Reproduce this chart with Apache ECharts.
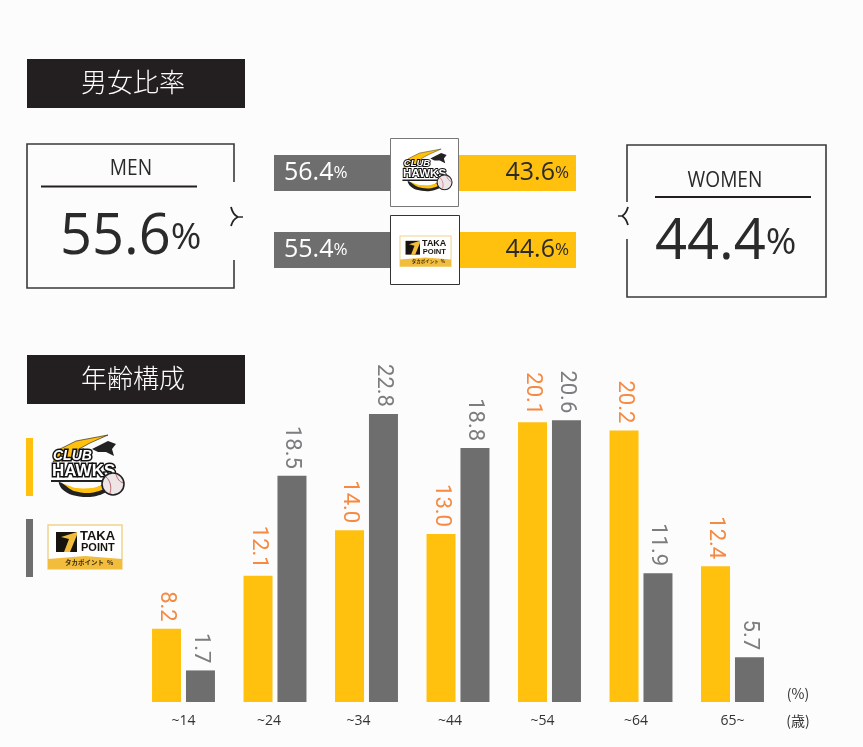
<!DOCTYPE html>
<html>
<head>
<meta charset="utf-8">
<style>
html, body { margin: 0; padding: 0; background: #fcfcfd; }
#main { width: 863px; height: 747px; }
</style>
<script src="https://cdn.jsdelivr.net/npm/echarts@6/dist/echarts.min.js"></script>
</head>
<body>
<div id="main"></div>
<script>
// 男女比率
var ratioRows = ['CLUB HAWKS', 'TAKA POINT'];
var menShare = [56.4, 55.4];
var womenShare = [43.6, 44.6];
var menTotal = '55.6';
var womenTotal = '44.4';

// 年齢構成
var ageGroups = ['~14', '~24', '~34', '~44', '~54', '~64', '65~'];
var hawksPrinted = ['8.2', '12.1', '14.0', '13.0', '20.1', '20.2', '12.4'];
var takaPrinted = ['1.7', '18.5', '22.8', '18.8', '20.6', '11.9', '5.7'];
// the bars in the picture are not proportional to their printed numbers,
// so the drawn heights are read off separately (in the 22.8 bar's scale)
var hawksBars = [5.8, 10.0, 13.6, 13.3, 22.15, 21.5, 10.75];
var takaBars = [2.5, 17.9, 22.8, 20.1, 22.3, 10.2, 3.55];

var YELLOW = '#ffc00e';
var GREY = '#6e6e6f';
var DARK = '#231f20';
var FONT = '"Open Sans", "Noto Sans CJK JP", sans-serif';
var CJK = '"Noto Sans CJK JP", sans-serif';
var LOGO = '"Liberation Sans", sans-serif';

// tick labels sit a little left of their bar groups in the picture
var tickNudge = [0, 6, 8, 8, 7, 5, 0];

var myChart = echarts.init(document.getElementById('main'));

function titleBar(y, text) {
    return [
        { type: 'rect', shape: { x: 27, y: y, width: 218, height: 49 }, style: { fill: DARK } },
        { type: 'text', x: 133, y: y + 23, style: { text: text, fill: '#fff', font: '300 26px ' + CJK, align: 'center', verticalAlign: 'middle' } }
    ];
}

function line(points, width) {
    return { type: 'polyline', shape: { points: points }, style: { stroke: width === 2 ? DARK : '#3a3a3a', lineWidth: width, fill: null } };
}

function hook(x1, y1, cx, cy, x2, y2) {
    return { type: 'bezierCurve', shape: { x1: x1, y1: y1, cpx1: cx, cpy1: cy, x2: x2, y2: y2 }, style: { stroke: '#222', lineWidth: 1.8, fill: null } };
}

function caseText(x, y, num) {
    return {
        type: 'text', x: x, y: y,
        style: {
            text: '{n|' + num + '}{p|%}',
            verticalAlign: 'middle',
            rich: {
                n: { font: '400 56px ' + FONT, fill: '#2a2a2a' },
                p: { font: '400 37px ' + FONT, fill: '#2a2a2a' }
            }
        }
    };
}

function withZ(group, z) {
    group.children.forEach(function (c) { c.z = z; });
    return group;
}

function hawksLogo(x, y, s) {
    return {
        type: 'group', x: x, y: y, scaleX: s, scaleY: s,
        children: [
            { type: 'polygon', shape: { points: [[7, 27], [14, 14], [30, 6], [62, 0], [44, 8], [33, 14], [28, 24]] }, style: { fill: YELLOW, stroke: '#111', lineWidth: 0.6 } },
            { type: 'polygon', shape: { points: [[46, 14], [62, 6], [70, 9], [66, 14], [68, 21], [60, 17], [52, 17]] }, style: { fill: '#222' } },
            { type: 'polygon', shape: { points: [[13, 47], [26, 53], [46, 54], [60, 49], [60, 57], [44, 62], [26, 60], [16, 54]], smooth: 0.3 }, style: { fill: '#222' } },
            { type: 'polygon', shape: { points: [[18, 49], [30, 53], [46, 53], [59, 50], [58, 54], [44, 58], [28, 56]], smooth: 0.3 }, style: { fill: YELLOW } },
            { type: 'text', x: 7, y: 14, style: { text: 'CLUB', fill: '#fff', stroke: '#111', lineWidth: 3, font: 'italic 700 14px ' + LOGO } },
            { type: 'text', x: 6, y: 28, style: { text: 'HAWKS', fill: '#fff', stroke: '#111', lineWidth: 3, font: '700 17px ' + LOGO } },
            { type: 'rect', shape: { x: 5, y: 45, width: 52, height: 2 }, style: { fill: '#222' } },
            { type: 'circle', shape: { cx: 67, cy: 49, r: 11 }, style: { fill: '#eee6e6', stroke: '#222', lineWidth: 1.6 } },
            { type: 'bezierCurve', shape: { x1: 60, y1: 42, cpx1: 64, cpy1: 45, cpx2: 66, cpy2: 52, x2: 64, y2: 58 }, style: { fill: null, stroke: '#b65a6a', lineWidth: 0.9 } },
            { type: 'bezierCurve', shape: { x1: 70, y1: 39, cpx1: 71, cpy1: 44, cpx2: 74, cpy2: 47, x2: 77, y2: 48 }, style: { fill: null, stroke: '#b65a6a', lineWidth: 0.9 } }
        ]
    };
}

function takaLogo(x, y, s) {
    return {
        type: 'group', x: x, y: y, scaleX: s, scaleY: s,
        children: [
            { type: 'rect', shape: { x: 0, y: 0, width: 74, height: 44 }, style: { fill: '#fff', stroke: '#f0d48a', lineWidth: 1.5 } },
            { type: 'polygon', shape: { points: [[0, 34], [37, 31], [74, 34], [74, 44], [0, 44]] }, style: { fill: '#f2bd3c' } },
            { type: 'rect', shape: { x: 8, y: 7, width: 21, height: 20 }, style: { fill: '#17130f' } },
            { type: 'polygon', shape: { points: [[13, 12], [29, 7], [29, 10], [22, 27], [16, 27], [21, 14]] }, style: { fill: '#f2bd3c' } },
            { type: 'text', x: 32, y: 5, style: { text: 'TAKA', fill: '#17130f', font: '700 13px ' + LOGO } },
            { type: 'text', x: 33, y: 17, style: { text: 'POINT', fill: '#17130f', font: '700 11px ' + LOGO } },
            { type: 'text', x: 17, y: 34, style: { text: 'タカポイント  %', fill: '#3a2c10', font: '700 6.5px ' + CJK } }
        ]
    };
}

var graphics = []
    .concat(titleBar(59, '男女比率'))
    .concat(titleBar(355, '年齢構成'))
    .concat([
        // MEN box
        line([[234, 182], [234, 144], [27, 144], [27, 288], [234, 288], [234, 260]], 1.6),
        hook(231, 207, 233, 215, 238, 217),
        hook(231, 226, 233, 219, 238, 217),
        line([[238, 217], [243, 217]], 1.6),
        { type: 'text', x: 131, y: 169, scaleX: 0.87, style: { text: 'MEN', fill: '#2a2a2a', font: '400 22px ' + FONT, align: 'center', verticalAlign: 'middle' } },
        line([[41, 186.5], [197, 186.5]], 2),
        caseText(60, 238, menTotal),
        // WOMEN box
        line([[627, 202], [627, 145], [826, 145], [826, 297], [627, 297], [627, 239]], 1.6),
        hook(628, 207, 626, 214, 622, 216),
        hook(628, 225, 626, 218, 622, 216),
        line([[622, 216], [618, 216]], 1.6),
        { type: 'text', x: 725, y: 181, scaleX: 0.87, style: { text: 'WOMEN', fill: '#2a2a2a', font: '400 22px ' + FONT, align: 'center', verticalAlign: 'middle' } },
        line([[655, 197], [811, 197]], 2),
        caseText(655, 243, womenTotal),
        // logo boxes, they sit on top of the stacked bars
        { type: 'rect', z: 20, shape: { x: 390.5, y: 138.5, width: 68, height: 68 }, style: { fill: '#fff', stroke: '#777', lineWidth: 1 } },
        { type: 'rect', z: 20, shape: { x: 390.5, y: 215.5, width: 69, height: 69 }, style: { fill: '#fff', stroke: '#333', lineWidth: 1 } },
        withZ(hawksLogo(399, 149, 0.68), 21),
        withZ(takaLogo(400, 236, 0.69), 21),
        // legend
        { type: 'rect', shape: { x: 26, y: 438, width: 7, height: 58 }, style: { fill: YELLOW } },
        { type: 'rect', shape: { x: 26, y: 519, width: 7, height: 58 }, style: { fill: GREY } },
        hawksLogo(46, 435, 1),
        takaLogo(48, 525, 1),
        // units
        { type: 'text', x: 798, y: 694, style: { text: '(%)', fill: '#333', font: '400 14px ' + CJK, align: 'center', verticalAlign: 'middle' } },
        { type: 'text', x: 798, y: 721, style: { text: '(歳)', fill: '#333', font: '400 14px ' + CJK, align: 'center', verticalAlign: 'middle' } }
    ]);

function shareLabel(position, color, gap) {
    return {
        show: true,
        position: position,
        distance: gap,
        formatter: function (p) { return '{n|' + p.value.toFixed(1) + '}{p|%}'; },
        rich: {
            n: { fontFamily: FONT, fontSize: 25, color: color },
            p: { fontFamily: FONT, fontSize: 17, color: color }
        }
    };
}

function ageLabel(printed, color) {
    return {
        show: true,
        position: 'top',
        distance: 7,
        rotate: -90,
        align: 'right',
        verticalAlign: 'middle',
        fontFamily: 'Roboto, sans-serif',
        fontSize: 22,
        color: color,
        formatter: function (p) { return printed[p.dataIndex]; }
    };
}

var tickRich = {};
tickNudge.forEach(function (n, i) {
    tickRich['t' + i] = { fontFamily: FONT, fontSize: 14, color: '#333', padding: [0, n * 2, 0, 0] };
});

option = {
    backgroundColor: '#fcfcfd',
    animation: false,
    grid: [
        { left: 274, top: 134.5, width: 302, height: 154 },
        { left: 137.75, top: 323, width: 640.5, height: 379 }
    ],
    xAxis: [
        { type: 'value', gridIndex: 0, min: 0, max: 100, show: false },
        {
            type: 'category', gridIndex: 1, data: ageGroups,
            axisLine: { show: false }, axisTick: { show: false },
            axisLabel: {
                margin: 12,
                rich: tickRich,
                formatter: function (v, i) { return '{t' + i + '|' + v + '}'; }
            }
        }
    ],
    yAxis: [
        { type: 'category', gridIndex: 0, data: ratioRows, inverse: true, show: false },
        { type: 'value', gridIndex: 1, min: 0, max: 30, show: false }
    ],
    series: [
        {
            name: 'MEN', type: 'bar', stack: 'ratio', xAxisIndex: 0, yAxisIndex: 0,
            barWidth: 36, data: menShare, itemStyle: { color: GREY },
            label: shareLabel('insideLeft', '#fff', 10)
        },
        {
            name: 'WOMEN', type: 'bar', stack: 'ratio', xAxisIndex: 0, yAxisIndex: 0,
            barWidth: 36, data: womenShare, itemStyle: { color: YELLOW },
            label: shareLabel('insideRight', '#2a2a2a', 7)
        },
        {
            name: 'CLUB HAWKS', type: 'bar', xAxisIndex: 1, yAxisIndex: 1,
            barWidth: 29, barGap: '17%', data: hawksBars, itemStyle: { color: YELLOW },
            label: ageLabel(hawksPrinted, '#f58a42')
        },
        {
            name: 'TAKA POINT', type: 'bar', xAxisIndex: 1, yAxisIndex: 1,
            barWidth: 29, barGap: '17%', data: takaBars, itemStyle: { color: GREY },
            label: ageLabel(takaPrinted, '#7c7d7e')
        }
    ],
    graphic: { elements: graphics }
};

myChart.setOption(option);
</script>
</body>
</html>
